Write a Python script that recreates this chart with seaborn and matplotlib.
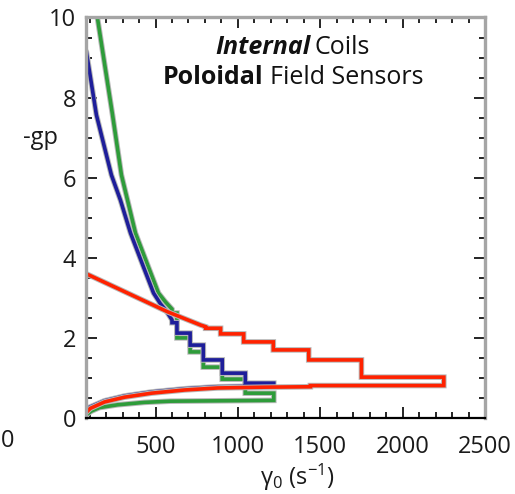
import numpy as np
import pandas as pd
import matplotlib
matplotlib.use("Agg")
import matplotlib.pyplot as plt
import matplotlib.patheffects as pe
from matplotlib.ticker import MultipleLocator
import seaborn as sns

sns.set_theme(style="white")
plt.rcParams["font.family"] = ["Open Sans", "DejaVu Sans"]
plt.rcParams["mathtext.fontset"] = "custom"
plt.rcParams["mathtext.rm"] = "Open Sans"
plt.rcParams["mathtext.it"] = "Open Sans:italic"

# ---- data: bounds of -gp versus gamma_0 (s^-1) ----
# Each bound = a finely sampled part (points) followed by a coarse binned part (steps).

# blue, upper bound
blue_up_g = [80, 141, 232, 287, 348, 427, 488, 530, 561, 600]
blue_up_v = [9.15, 7.57, 6.07, 5.44, 4.62, 3.77, 3.12, 2.85, 2.70, 2.45]
blue_up_edges = [600, 630, 710, 790, 905, 1045, 1218]
blue_up_steps = [2.38, 2.12, 1.82, 1.45, 1.12, 0.87]
# blue, lower bound
blue_lo_g = [80, 100, 190, 312, 476, 677, 877, 1218]
blue_lo_v = [0.17, 0.27, 0.43, 0.55, 0.65, 0.73, 0.78, 0.80]

# green, upper bound
green_up_g = [80, 147, 239, 293, 330, 378, 457, 518, 560, 600]
green_up_v = [11.8, 10.0, 7.57, 6.07, 5.44, 4.62, 3.77, 3.12, 2.9, 2.72]
green_up_edges = [600, 630, 710, 790, 905, 1045, 1218]
green_up_steps = [2.62, 2.0, 1.65, 1.27, 0.97, 0.62]
# green, lower bound
green_lo_g = [80, 110, 160, 270, 433, 590, 1218]
green_lo_v = [0.08, 0.17, 0.26, 0.33, 0.39, 0.42, 0.44]

# red, upper bound
red_up_g = [80, 330, 574, 774, 804]
red_up_v = [3.6, 3.12, 2.65, 2.32, 2.28]
red_up_edges = [804, 895, 1035, 1215, 1430, 1750, 2250]
red_up_steps = [2.24, 2.1, 1.9, 1.70, 1.45, 1.02]
# red, lower bound
red_lo_g = [80, 104, 190, 312, 476, 677, 877, 1163, 1440]
red_lo_v = [0.14, 0.24, 0.40, 0.52, 0.62, 0.70, 0.75, 0.77, 0.78]
red_lo_edges = [1440, 2250]
red_lo_steps = [0.81]

x_ticks = [500, 1000, 1500, 2000, 2500]
y_ticks = [0, 2, 4, 6, 8, 10]


def branch(g, v, edges=None, steps=None):
    """Vertices of one bound: sampled points, then a staircase over the bins."""
    x, y = list(g), list(v)
    if edges is not None:
        x += list(np.repeat(edges, 2)[1:-1])
        y += list(np.repeat(steps, 2))
    return np.array(x, float), np.array(y, float)


def loop(upper, lower, name):
    """Closed outline: upper bound left->right, then lower bound back."""
    ux, uy = upper
    lx, ly = lower
    x = np.concatenate([ux, lx[::-1]])
    y = np.concatenate([uy, ly[::-1]])
    return pd.DataFrame({"gamma0": x, "gp": y, "set": name})


curves = [
    loop(branch(green_up_g, green_up_v, green_up_edges, green_up_steps),
         branch(green_lo_g, green_lo_v), "green"),
    loop(branch(blue_up_g, blue_up_v, blue_up_edges, blue_up_steps),
         branch(blue_lo_g, blue_lo_v), "blue"),
    loop(branch(red_up_g, red_up_v, red_up_edges, red_up_steps),
         branch(red_lo_g, red_lo_v, red_lo_edges, red_lo_steps), "red"),
]
colors = {"green": "#2e9c3a", "blue": "#1e1e9a", "red": "#ff2200"}

W, H = 515, 494
fig = plt.figure(figsize=(W / 100, H / 100), dpi=100)
ax = fig.add_axes([86 / W, 1 - 418 / H, (485 - 86) / W, (418 - 17.5) / H])

for df in curves:
    name = df["set"].iloc[0]
    sns.lineplot(data=df, x="gamma0", y="gp", sort=False, estimator=None, ax=ax,
                 color=colors[name], linewidth=2.6, solid_joinstyle="miter",
                 path_effects=[pe.Stroke(linewidth=4.0, foreground="#b8b8b8"), pe.Normal()])

ax.set_xlim(78, 2500)
ax.set_ylim(0, 10)
ax.set_xticks(x_ticks)
ax.set_yticks(y_ticks)
ax.xaxis.set_minor_locator(MultipleLocator(100))
ax.yaxis.set_minor_locator(MultipleLocator(0.5))
ax.tick_params(which="both", direction="in", top=True, right=True, bottom=True, left=True,
               colors="black", labelcolor="#1a1a1a", labelsize=17)
ax.tick_params(which="major", length=8, width=1.2)
ax.tick_params(which="minor", length=4, width=1.2)
ax.tick_params(axis="x", which="major", pad=12)
ax.tick_params(axis="y", which="major", pad=7)

for side in ["left", "top", "right"]:
    ax.spines[side].set_color("#a5a5a5")
    ax.spines[side].set_linewidth(2.4)
ax.spines["bottom"].set_color("black")
ax.spines["bottom"].set_linewidth(1.6)

ax.set_xlabel("γ$_0$ (s$^{-1}$)", fontsize=17, color="#1a1a1a", va="center")
ax.xaxis.set_label_coords((297 - 86) / 399, -(477 - 418) / 400.5)
ax.set_ylabel("-gp", fontsize=17, rotation=0, color="#1a1a1a", ha="center", va="center")
ax.yaxis.set_label_coords((40 - 86) / 399, (418 - 138) / 400.5)

# origin label sitting at the far left
fig.text(0.5 / W, 1 - 441 / H, "0", fontsize=17, color="#1a1a1a", ha="left", va="center")

# panel title, two lines with mixed weights
tsize = 18
fig.text(310 / W, 1 - 47 / H, "Internal", fontsize=tsize, fontweight="bold", fontstyle="italic",
         ha="right", va="center", color="#111111")
fig.text(315 / W, 1 - 47 / H, "Coils", fontsize=tsize, ha="left", va="center", color="#111111")
fig.text(263 / W, 1 - 77 / H, "Poloidal", fontsize=tsize, fontweight="bold",
         ha="right", va="center", color="#111111")
fig.text(270 / W, 1 - 77 / H, "Field Sensors", fontsize=tsize, ha="left", va="center",
         color="#111111")

fig.savefig("out.png", dpi=100)
